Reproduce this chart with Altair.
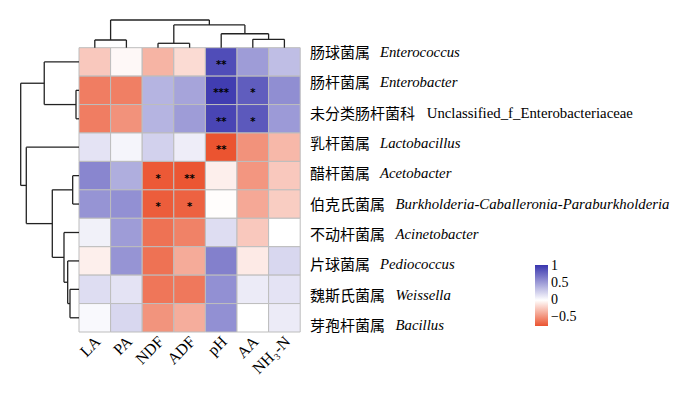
import altair as alt
import pandas as pd

cols = ["LA", "PA", "NDF", "ADF", "pH", "AA", "NH₃-N"]
rows_cn = ["肠球菌属", "肠杆菌属", "未分类肠杆菌科", "乳杆菌属", "醋杆菌属",
           "伯克氏菌属", "不动杆菌属", "片球菌属", "魏斯氏菌属", "芽孢杆菌属"]
rows_lat = ["Enterococcus", "Enterobacter", "Unclassified_f_Enterobacteriaceae",
            "Lactobacillus", "Acetobacter", "Burkholderia-Caballeronia-Paraburkholderia",
            "Acinetobacter", "Pediococcus", "Weissella", "Bacillus"]
lat_italic = [True, True, False, True, True, True, True, True, True, True]

values = [
    [-0.24, -0.03, -0.33, -0.16, 0.90, 0.50, 0.33],
    [-0.57, -0.56, 0.38, 0.46, 0.98, 0.82, 0.57],
    [-0.57, -0.48, 0.38, 0.50, 0.94, 0.84, 0.51],
    [0.14, 0.05, 0.23, 0.09, -0.75, -0.48, -0.31],
    [0.61, 0.41, -0.73, -0.74, -0.07, -0.46, -0.24],
    [0.54, 0.56, -0.71, -0.69, -0.01, -0.38, -0.22],
    [0.07, 0.50, -0.62, -0.55, 0.17, -0.24, 0.00],
    [-0.07, 0.54, -0.62, -0.37, 0.64, -0.09, 0.20],
    [0.17, 0.14, -0.60, -0.59, 0.56, 0.10, 0.14],
    [0.03, 0.20, -0.47, -0.36, 0.56, 0.00, 0.10],
]
stars = [
    ["", "", "", "", "**", "", ""],
    ["", "", "", "", "***", "*", ""],
    ["", "", "", "", "**", "*", ""],
    ["", "", "", "", "**", "", ""],
    ["", "", "*", "**", "", "", ""],
    ["", "", "*", "*", "", "", ""],
    ["", "", "", "", "", "", ""],
    ["", "", "", "", "", "", ""],
    ["", "", "", "", "", "", ""],
    ["", "", "", "", "", "", ""],
]

# dendrogram merges (child a, child b, height in cell units)
col_merges = [(0, 1, 0.27), (2, 3, 0.155), (5, 6, 0.295), (4, 9, 0.49),
              (8, 10, 0.80), (7, 11, 0.974)]
row_merges = [(1, 2, 0.095), (0, 10, 1.10), (4, 5, 0.20), (8, 9, 0.285),
              (7, 13, 0.358), (6, 14, 0.475), (12, 15, 0.845), (3, 16, 1.668),
              (11, 17, 1.845)]


def dendro(n, merges):
    pos = {i: i + 0.5 for i in range(n)}
    hgt = {i: 0.0 for i in range(n)}
    segs = []
    for k, (a, b, h) in enumerate(merges):
        for c in (a, b):
            segs.append((pos[c], hgt[c], pos[c], h))
        segs.append((pos[a], h, pos[b], h))
        pos[n + k] = (pos[a] + pos[b]) / 2
        hgt[n + k] = h
    return segs


cell_w, cell_h = 31.6, 28.43
W, H = 684, 383
left_px, top_px = 71, 39.7
xs = alt.Scale(domain=[-left_px / cell_w, (W - left_px) / cell_w], nice=False, zero=False)
ys = alt.Scale(domain=[-top_px / cell_h, (H - top_px) / cell_h], nice=False, zero=False, reverse=True)

cells = []
for r in range(len(rows_cn)):
    for c in range(len(cols)):
        cells.append({"c0": c, "c1": c + 1, "r0": r, "r1": r + 1,
                      "cx": c + 0.5, "ry": r + 0.5,
                      "v": values[r][c], "s": stars[r][c]})
cells = pd.DataFrame(cells)

col_segs = pd.DataFrame([{"x": a, "y": -b, "x2": c, "y2": -d} for a, b, c, d in dendro(len(cols), col_merges)])
row_segs = pd.DataFrame([{"y": a, "x": -b, "y2": c, "x2": -d} for a, b, c, d in dendro(len(rows_cn), row_merges)])

label_y0, label_step = 0.186, 1.0675
cn_x = (310 - 79) / cell_w
labels = pd.DataFrame({
    "cn": rows_cn, "lat": rows_lat, "it": lat_italic,
    "y": [label_y0 + i * label_step for i in range(len(rows_cn))],
    "xcn": [cn_x] * len(rows_cn),
    "xlat": [cn_x + (len(s) * 15.6 + 7.5) / cell_w for s in rows_cn],
})
col_lab = pd.DataFrame({"lab": cols, "x": [i + 0.6 for i in range(len(cols))],
                        "y": [10.25] * len(cols)})

heat = alt.Chart(cells).mark_rect(stroke="#BDBDBD", strokeWidth=1).encode(
    x=alt.X("c0:Q", scale=xs, axis=None), x2="c1",
    y=alt.Y("r0:Q", scale=ys, axis=None), y2="r1",
    color=alt.Color("v:Q", scale=alt.Scale(domain=[-0.75, 0, 1.02],
                                           range=["#EB5430", "#FFFFFF", "#3935AE"],
                                           interpolate="rgb"),
                    legend=alt.Legend(orient="none", legendX=527, legendY=257,
                                      gradientLength=61, gradientThickness=13,
                                      values=[-0.5, 0, 0.5, 1], format=".1~f",
                                      labelFont="Liberation Serif", labelFontSize=14,
                                      labelColor="black", title=None, direction="vertical",
                                      padding=0, gradientStrokeWidth=0, labelOffset=3,
                                      labelOverlap=False, labelBaseline="middle")),
)

star_txt = alt.Chart(cells).mark_text(font="DejaVu Sans", fontWeight="bold", fontSize=10,
                                      baseline="middle", dy=3, color="black").encode(
    x=alt.X("cx:Q", scale=xs, axis=None), y=alt.Y("ry:Q", scale=ys, axis=None), text="s:N")

col_d = alt.Chart(col_segs).mark_rule(color="#222222", strokeWidth=1.3).encode(
    x=alt.X("x:Q", scale=xs, axis=None), x2="x2",
    y=alt.Y("y:Q", scale=ys, axis=None), y2="y2")
row_d = alt.Chart(row_segs).mark_rule(color="#222222", strokeWidth=1.3).encode(
    x=alt.X("x:Q", scale=xs, axis=None), x2="x2",
    y=alt.Y("y:Q", scale=ys, axis=None), y2="y2")

cn_txt = alt.Chart(labels).mark_text(font="Noto Sans CJK SC", fontSize=15, align="left",
                                     baseline="middle", color="black").encode(
    x=alt.X("xcn:Q", scale=xs, axis=None), y=alt.Y("y:Q", scale=ys, axis=None), text="cn:N")
lat_it = alt.Chart(labels).transform_filter("datum.it").mark_text(
    font="Liberation Serif", fontStyle="italic", fontSize=14.8, align="left",
    baseline="middle", color="black").encode(
    x=alt.X("xlat:Q", scale=xs, axis=None), y=alt.Y("y:Q", scale=ys, axis=None), text="lat:N")
lat_rm = alt.Chart(labels).transform_filter("!datum.it").mark_text(
    font="Liberation Serif", fontSize=14.8, align="left",
    baseline="middle", color="black").encode(
    x=alt.X("xlat:Q", scale=xs, axis=None), y=alt.Y("y:Q", scale=ys, axis=None), text="lat:N")

col_txt = alt.Chart(col_lab).mark_text(font="Liberation Serif", fontSize=16, angle=315,
                                       align="right", baseline="middle", color="black").encode(
    x=alt.X("x:Q", scale=xs, axis=None), y=alt.Y("y:Q", scale=ys, axis=None), text="lab:N")

chart = alt.layer(heat, star_txt, col_d, row_d, cn_txt, lat_it, lat_rm, col_txt).properties(
    width=W, height=H, autosize=alt.AutoSizeParams(type="none"), padding=0
).configure_view(stroke=None)

chart.save("out.html", embed_options={"renderer": "svg", "actions": False})
